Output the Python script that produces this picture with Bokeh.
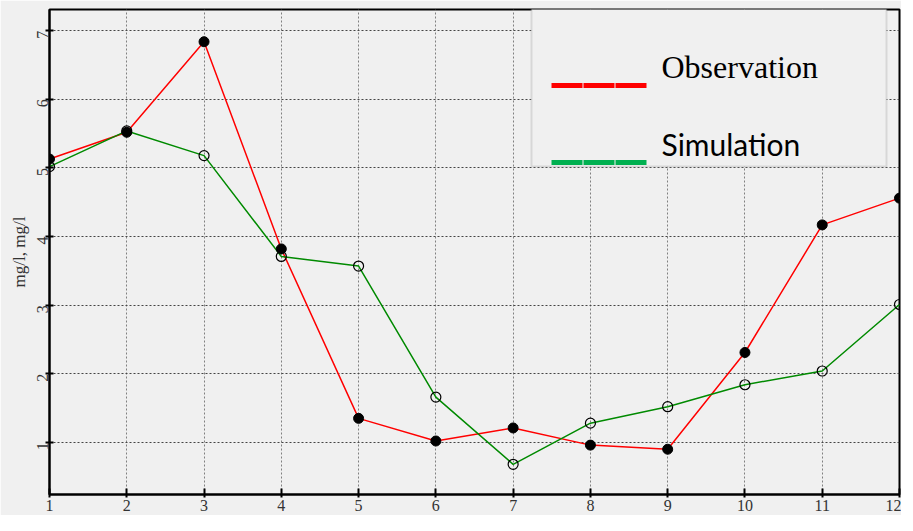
import math
from bokeh.plotting import figure
from bokeh.models import Range1d, FixedTicker, BoxAnnotation, Label
from bokeh.embed import file_html
from bokeh.resources import INLINE

# ---- data ----
months = [1, 2, 3, 4, 5, 6, 7, 8, 9, 10, 11, 12]
observation = [5.13, 5.52, 6.84, 3.82, 1.35, 1.02, 1.21, 0.96, 0.90, 2.31, 4.17, 4.56]
simulation = [5.02, 5.54, 5.18, 3.71, 3.57, 1.66, 0.68, 1.28, 1.52, 1.84, 2.04, 3.01]
x_ticks = list(range(1, 13))
y_ticks = [1, 2, 3, 4, 5, 6, 7]
y_label = "mg/l, mg/l"
series_names = ["Observation", "Simulation"]

BG = "#f0f0f0"
SERIF = "Liberation Serif"

p = figure(width=901, height=515, output_backend="svg", toolbar_location=None,
           x_range=Range1d(1, 12), y_range=Range1d(0.24, 7.31),
           min_border_left=49, min_border_right=2, min_border_top=9, min_border_bottom=21)
p.background_fill_color = BG
p.border_fill_color = BG
p.outline_line_color = "black"
p.outline_line_width = 2

# grid
p.xgrid.ticker = FixedTicker(ticks=x_ticks)
p.ygrid.ticker = FixedTicker(ticks=y_ticks)
p.xgrid.grid_line_color = "#808080"
p.ygrid.grid_line_color = "#444444"
p.xgrid.grid_line_dash = "2 2"
p.ygrid.grid_line_dash = "2 2"
p.xgrid.grid_line_width = 1
p.ygrid.grid_line_width = 1

# axes
for ax in (p.xaxis[0], p.yaxis[0]):
    ax.axis_line_color = "black"
    ax.axis_line_width = 2
    ax.major_tick_line_color = "black"
    ax.major_tick_line_width = 2
    ax.minor_tick_line_color = None
    ax.major_label_text_font = SERIF
    ax.major_label_text_color = "#333333"
    ax.axis_label_text_font = SERIF

p.xaxis.ticker = FixedTicker(ticks=x_ticks)
p.xaxis.major_tick_in = 6
p.xaxis.major_tick_out = 3
p.xaxis.major_label_standoff = 2
p.xaxis.major_label_text_font_size = "16px"

p.yaxis.ticker = FixedTicker(ticks=y_ticks)
p.yaxis.major_tick_in = 4
p.yaxis.major_tick_out = 4
p.yaxis.major_label_standoff = 3
p.yaxis.major_label_orientation = math.pi / 2
p.yaxis.major_label_text_font_size = "16px"
p.yaxis.axis_label = y_label
p.yaxis.axis_label_text_font_size = "17px"
p.yaxis.axis_label_text_font_style = "normal"
p.yaxis.axis_label_text_color = "#333333"
p.yaxis.axis_label_standoff = 0

# series
p.line(months, observation, line_color="#ff0000", line_width=1.5)
p.line(months, simulation, line_color="#008a00", line_width=1.5)
p.scatter(months, simulation, marker="circle", size=10, fill_color=None,
          line_color="black", line_width=1.2)
p.scatter(months, observation, marker="circle", size=10, fill_color="black",
          line_color="black")

# ---- manual legend (screen units) ----
p.add_layout(BoxAnnotation(left=482, right=837, bottom=328, top=487,
                           left_units="screen", right_units="screen",
                           bottom_units="screen", top_units="screen",
                           fill_color=BG, fill_alpha=1.0,
                           line_color="#a0a0a0", line_width=2))
for (yc, col) in ((409, "#ff0000"), (332, "#00b050")):
    for (l, r) in ((502, 533), (534, 565), (566, 597)):
        p.add_layout(BoxAnnotation(left=l, right=r, bottom=yc - 2.5, top=yc + 2.5,
                                   left_units="screen", right_units="screen",
                                   bottom_units="screen", top_units="screen",
                                   fill_color=col, fill_alpha=1.0, line_color=None))
p.add_layout(Label(x=612, y=428, x_units="screen", y_units="screen",
                   text=series_names[0], text_font=SERIF,
                   text_font_size="32px", text_color="black",
                   text_baseline="alphabetic"))
p.add_layout(Label(x=612, y=351, x_units="screen", y_units="screen",
                   text=series_names[1], text_font="Lato",
                   text_font_size="30px", text_color="black",
                   text_baseline="alphabetic"))

open("out.html", "w").write(file_html(p, INLINE))
